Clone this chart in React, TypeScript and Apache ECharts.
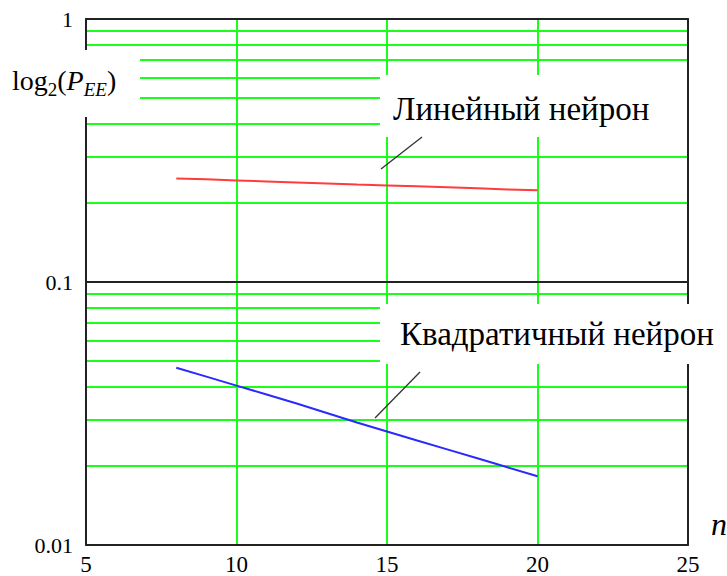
import React, { useEffect, useRef } from "react";
import * as echarts from "echarts";

const nValues = [8, 9, 10, 11, 12, 13, 14, 15, 16, 17, 18, 19, 20];
const linearNeuron = [0.2477, 0.2456, 0.2434, 0.2413, 0.2392, 0.2371, 0.235, 0.233, 0.231, 0.229, 0.227, 0.225, 0.2231];
const quadraticNeuron = [0.04722, 0.04367, 0.04037, 0.03733, 0.03451, 0.03176, 0.02923, 0.02703, 0.02498, 0.0231, 0.02136, 0.01974, 0.01825];
const xTickLabels = ["5", "10", "15", "20", "25"];
const yTickLabels = ["0.01", "0.1", "1"];
const yMinorGrid = [0.02, 0.03, 0.04, 0.05, 0.06, 0.07, 0.08, 0.09, 0.2, 0.3, 0.4, 0.5, 0.6, 0.7, 0.8, 0.9];
const xGrid = [10, 15, 20];
const labelLinear = "Линейный нейрон";
const labelQuadratic = "Квадратичный нейрон";

const SERIF = "Liberation Serif";
const GREEN = "#1aff1a";

export default function App() {
  const ref = useRef<HTMLDivElement>(null);
  useEffect(() => {
    if (!ref.current) return;
    const chart = echarts.init(ref.current, undefined, { renderer: "svg" });
    const axisLineStyle = { color: "#222", width: 2 };
    const titleBase = { padding: 0, z: 20, itemGap: 0 };
    const option: any = {
      animation: false,
      backgroundColor: "#fff",
      grid: { left: 86, right: 39, top: 19, bottom: 29, show: false },
      title: [
        {
          ...titleBase, left: 12, top: 66,
          text: "{a|log}{s|2}{a|(}{i|P}{si|EE}{a|)}",
          textStyle: {
            fontFamily: SERIF, fontSize: 28, color: "#000", fontWeight: "normal",
            rich: {
              a: { fontFamily: SERIF, fontSize: 28, color: "#000", verticalAlign: "bottom" },
              s: { fontFamily: SERIF, fontSize: 19, color: "#000", verticalAlign: "bottom", padding: [0, 0, -5, 0] },
              i: { fontFamily: SERIF, fontSize: 28, fontStyle: "italic", color: "#000", verticalAlign: "bottom" },
              si: { fontFamily: SERIF, fontSize: 19, fontStyle: "italic", color: "#000", verticalAlign: "bottom", padding: [0, 0, -5, 0] },
            },
          },
        },
        {
          ...titleBase, left: 393, top: 92, text: labelLinear,
          textStyle: { fontFamily: SERIF, fontSize: 33, color: "#000", fontWeight: "normal" },
        },
        {
          ...titleBase, left: 400, top: 317, text: labelQuadratic,
          textStyle: { fontFamily: SERIF, fontSize: 33, color: "#000", fontWeight: "normal" },
        },
        {
          ...titleBase, left: 711, top: 508, text: "n",
          textStyle: { fontFamily: SERIF, fontSize: 32, fontStyle: "italic", color: "#000", fontWeight: "normal" },
        },
      ],
      xAxis: [
        {
          type: "value", min: 5, max: 25, interval: 5, z: 3,
          axisLine: { show: true, lineStyle: axisLineStyle },
          axisTick: { show: false },
          splitLine: { show: false },
          axisLabel: {
            margin: 8, color: "#000", fontFamily: SERIF, fontSize: 23,
            formatter: (v: number) => xTickLabels[Math.round((v - 5) / 5)] ?? "",
          },
        },
        {
          type: "value", min: 5, max: 25, interval: 5, position: "top", z: 3,
          axisLine: { show: true, lineStyle: axisLineStyle },
          axisTick: { show: false }, axisLabel: { show: false }, splitLine: { show: false },
        },
      ],
      yAxis: [
        {
          type: "log", logBase: 10, min: 0.01, max: 1, z: 3,
          axisLine: { show: true, lineStyle: axisLineStyle },
          axisTick: { show: false },
          splitLine: { show: true, lineStyle: { color: "#222", width: 2 } },
          axisLabel: {
            margin: 13, color: "#000", fontFamily: SERIF, fontSize: 22,
            formatter: (v: number) => {
              const i = Math.round(Math.log10(v)) + 2;
              return yTickLabels[i] ?? "";
            },
          },
        },
        {
          type: "log", logBase: 10, min: 0.01, max: 1, position: "right", z: 3,
          axisLine: { show: true, lineStyle: axisLineStyle },
          axisTick: { show: false }, axisLabel: { show: false }, splitLine: { show: false },
        },
      ],
      series: [
        {
          type: "line", name: "grid", data: [], silent: true, z: 1,
          markLine: {
            z: 1, silent: true, symbol: ["none", "none"], label: { show: false },
            lineStyle: { color: GREEN, type: "solid", width: 2 },
            data: [
              ...yMinorGrid.map((v) => ({ yAxis: v })),
              ...xGrid.map((v) => ({ xAxis: v })),
            ],
          },
        },
        {
          type: "line", name: labelLinear, z: 4,
          data: nValues.map((n, i) => [n, linearNeuron[i]]),
          showSymbol: false, symbol: "none",
          lineStyle: { color: "#ff3b3b", width: 2 },
        },
        {
          type: "line", name: labelQuadratic, z: 4,
          data: nValues.map((n, i) => [n, quadraticNeuron[i]]),
          showSymbol: false, symbol: "none",
          lineStyle: { color: "#2a2aff", width: 2 },
        },
      ],
      graphic: [
        { type: "rect", z: 12, shape: { x: 0, y: 50, width: 140, height: 67 }, style: { fill: "#fff" } },
        { type: "rect", z: 12, shape: { x: 380, y: 75, width: 307, height: 62 }, style: { fill: "#fff" } },
        { type: "rect", z: 12, shape: { x: 380, y: 304, width: 345, height: 60 }, style: { fill: "#fff" } },
        { type: "line", z: 13, shape: { x1: 381, y1: 169, x2: 422, y2: 137 }, style: { stroke: "#333", lineWidth: 1.3 } },
        { type: "line", z: 13, shape: { x1: 375, y1: 418, x2: 420, y2: 372 }, style: { stroke: "#333", lineWidth: 1.3 } },
      ],
    };
    chart.setOption(option);
    return () => chart.dispose();
  }, []);
  return (
    <div
      ref={ref}
      style={{ position: "fixed", left: 0, top: 0, width: 727, height: 576, background: "#fff" }}
    />
  );
}
